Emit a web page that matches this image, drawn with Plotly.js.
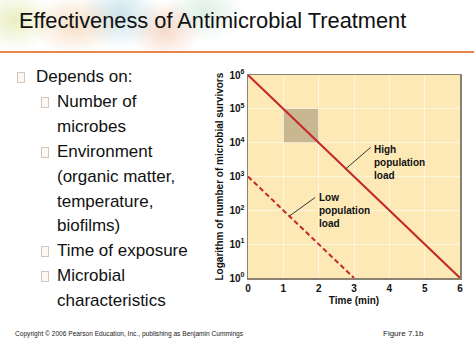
<!DOCTYPE html>
<html>
<head>
<meta charset="utf-8">
<script src="https://cdn.plot.ly/plotly-3.0.1.min.js"></script>
<style>
html,body{margin:0;padding:0;background:#fff;}
#stage{position:relative;width:474px;height:355px;overflow:hidden;font-family:Arial,"Liberation Sans",sans-serif;background:#fff;}
#bgimg{position:absolute;left:0;top:0;width:260px;height:52px;
 background:
  radial-gradient(ellipse 40px 30px at 15px 20px, rgba(215,225,140,0.55), rgba(255,255,255,0) 100%),
  radial-gradient(ellipse 45px 30px at 75px 25px, rgba(240,190,140,0.5), rgba(255,255,255,0) 100%),
  radial-gradient(ellipse 40px 35px at 120px 15px, rgba(150,200,215,0.5), rgba(255,255,255,0) 100%),
  radial-gradient(ellipse 35px 30px at 165px 30px, rgba(235,170,130,0.45), rgba(255,255,255,0) 100%),
  radial-gradient(ellipse 40px 30px at 205px 12px, rgba(170,215,190,0.4), rgba(255,255,255,0) 100%);}
#rule{position:absolute;left:0;top:51px;width:474px;height:2px;background:#e8844c;}
.t{position:absolute;white-space:nowrap;color:#111;}
#title{left:19px;top:8px;font-size:21.8px;}
.b1{font-size:17px;}
.box{position:absolute;width:6px;height:9px;border:1px solid #d3c6b8;background:#fbf8f5;}
#foot{left:15px;top:330px;font-size:6.6px;color:#222;}
#fig{left:383px;top:329px;font-size:8px;color:#222;}
#plot{position:absolute;left:0;top:0;width:474px;height:355px;}
</style>
</head>
<body>
<div id="stage">
 <div id="bgimg"></div>
 <div id="rule"></div>
 <div class="t" id="title">Effectiveness of Antimicrobial Treatment</div>
 <div id="bullets"></div>
 <div class="t" id="foot">Copyright © 2006 Pearson Education, Inc., publishing as Benjamin Cummings</div>
 <div class="t" id="fig">Figure 7.1b</div>
 <div id="plot"></div>
</div>
<script>
// ---- data ----
const timeHigh = [0, 6];
const survivorsHigh = [1e6, 1];
const timeLow = [0, 3];
const survivorsLow = [1e3, 1];
const xTickVals = [0, 1, 2, 3, 4, 5, 6];
const yTickVals = [1, 10, 100, 1000, 10000, 100000, 1000000];
const yTickText = ["10<sup>0</sup>","10<sup>1</sup>","10<sup>2</sup>","10<sup>3</sup>","10<sup>4</sup>","10<sup>5</sup>","10<sup>6</sup>"];
const bulletLines = [
  {level:1, bullet:true, text:"Depends on:"},
  {level:2, bullet:true, text:"Number of"},
  {level:2, bullet:false, text:"microbes"},
  {level:2, bullet:true, text:"Environment"},
  {level:2, bullet:false, text:"(organic matter,"},
  {level:2, bullet:false, text:"temperature,"},
  {level:2, bullet:false, text:"biofilms)"},
  {level:2, bullet:true, text:"Time of exposure"},
  {level:2, bullet:true, text:"Microbial"},
  {level:2, bullet:false, text:"characteristics"}
];

// ---- slide text ----
const bdiv = document.getElementById('bullets');
bulletLines.forEach((ln, i) => {
  const top = 67 + i * 24.9;
  const d = document.createElement('div');
  d.className = 't b1';
  d.style.left = (ln.level === 1 ? 36 : 57) + 'px';
  d.style.top = top + 'px';
  d.textContent = ln.text;
  bdiv.appendChild(d);
  if (ln.bullet) {
    const b = document.createElement('div');
    b.className = 'box';
    b.style.left = (ln.level === 1 ? 17 : 41) + 'px';
    b.style.top = (top + 5) + 'px';
    bdiv.appendChild(b);
  }
});

// ---- chart ----
const FONT = 'Arial, "Liberation Sans", sans-serif';
const red = '#c4282c';
const traces = [
  {x: timeHigh, y: survivorsHigh, type:'scatter', mode:'lines',
   line:{color:red, width:2}, hoverinfo:'skip'},
  {x: timeLow, y: survivorsLow, type:'scatter', mode:'lines',
   line:{color:red, width:2, dash:'5px,3px'}, hoverinfo:'skip'}
];
const layout = {
  width:474, height:355,
  margin:{l:248, r:14, t:75, b:77},
  paper_bgcolor:'rgba(0,0,0,0)',
  plot_bgcolor:'#fde9b6',
  showlegend:false,
  xaxis:{range:[0,6], tickvals:xTickVals, ticks:'', showgrid:true,
    gridcolor:'rgba(255,255,255,0.55)', gridwidth:1, zeroline:false,
    showline:true, linecolor:'#8a8170', linewidth:1.5, mirror:true,
    tickfont:{family:FONT, size:10, weight:'bold', color:'#111'},
    title:{text:'Time (min)', font:{family:FONT, size:10, weight:'bold', color:'#111'}, standoff:4}},
  yaxis:{type:'log', range:[0,6], tickvals:yTickVals, ticktext:yTickText, ticks:'',
    showgrid:true, gridcolor:'rgba(255,255,255,0.55)', gridwidth:1, zeroline:false,
    showline:true, linecolor:'#8a8170', linewidth:1.5, mirror:true,
    tickfont:{family:FONT, size:10, weight:'bold', color:'#111'}},
  shapes:[
    {type:'rect', xref:'x', yref:'y', x0:1, x1:2, y0:1e4, y1:1e5, layer:'below',
     fillcolor:'#c9b792', line:{width:0}},
    {type:'line', xref:'x', yref:'y', x0:2.77, y0:Math.pow(10,3.23), x1:3.47, y1:Math.pow(10,3.86),
     line:{color:'#333', width:1}},
    {type:'line', xref:'x', yref:'y', x0:1.17, y0:Math.pow(10,1.83), x1:1.9, y1:Math.pow(10,2.38),
     line:{color:'#333', width:1}}
  ],
  annotations:[
    {xref:'x', yref:'y', x:3.52, y:3.42, xanchor:'left', yanchor:'middle', align:'left',
     text:'High<br>population<br>load', showarrow:false,
     font:{family:FONT, size:10, weight:'bold', color:'#111'}},
    {xref:'x', yref:'y', x:1.95, y:2.0, xanchor:'left', yanchor:'middle', align:'left',
     text:'Low<br>population<br>load', showarrow:false,
     font:{family:FONT, size:10, weight:'bold', color:'#111'}},
    {xref:'paper', yref:'paper', x:0, y:0.5, xshift:-29, xanchor:'center', yanchor:'middle',
     textangle:-90, showarrow:false, text:'Logarithm of number of microbial survivors',
     font:{family:FONT, size:10, weight:'bold', color:'#111'}}
  ]
};
Plotly.newPlot('plot', traces, layout, {staticPlot:true, displayModeBar:false});
</script>
</body>
</html>
